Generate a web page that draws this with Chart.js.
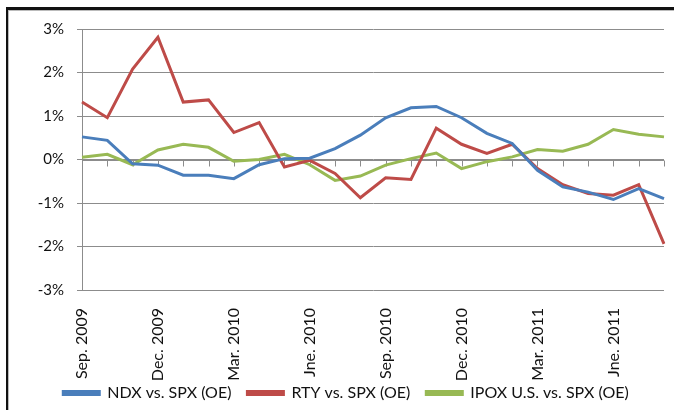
<!DOCTYPE html>
<html>
<head>
<meta charset="utf-8">
<script src="https://cdn.jsdelivr.net/npm/chart.js@4"></script>
<style>
  html, body { margin: 0; padding: 0; background: #fff; overflow: hidden; }
  #frame {
    position: absolute; left: 6px; top: 7px; width: 700px; height: 420px;
    border-left: 2px solid #111; border-top: 3px solid #111;
    box-shadow: inset 1px 1px 0 #bbb;
  }
  #c { position: absolute; left: 0; top: 0; }
</style>
</head>
<body>
<div id="frame"></div>
<canvas id="c" width="674" height="410"></canvas>
<script>
// months, Sep 2009 .. Aug 2011
var months = ['Sep. 2009','Oct. 2009','Nov. 2009','Dec. 2009','Jan. 2010','Feb. 2010',
              'Mar. 2010','Apr. 2010','May 2010','Jne. 2010','Jul. 2010','Aug. 2010',
              'Sep. 2010','Oct. 2010','Nov. 2010','Dec. 2010','Jan. 2011','Feb. 2011',
              'Mar. 2011','Apr. 2011','May 2011','Jne. 2011','Jul. 2011','Aug. 2011'];

// values in %
var ndx  = [0.52,0.44,-0.10,-0.13,-0.36,-0.36,-0.44,-0.12,0.02,0.03,0.25,0.56,
            0.96,1.19,1.22,0.96,0.60,0.37,-0.25,-0.63,-0.75,-0.92,-0.67,-0.90];
var rty  = [1.32,0.96,2.08,2.81,1.32,1.37,0.62,0.85,-0.17,-0.02,-0.32,-0.88,
            -0.42,-0.46,0.72,0.35,0.14,0.35,-0.21,-0.58,-0.78,-0.82,-0.58,-1.94];
var ipox = [0.05,0.12,-0.12,0.22,0.35,0.28,-0.04,0.00,0.12,-0.12,-0.48,-0.38,
            -0.13,0.02,0.15,-0.21,-0.05,0.06,0.23,0.19,0.35,0.69,0.58,0.52];

var yTicks = [-3,-2,-1,0,1,2,3];

var gridColor = '#8c8c8c';
var labelFont = '16px Lato';

// zero line with month tick marks (category axis crosses at 0),
// month labels stay at the low end of the value axis
var zeroAxis = {
  id: 'zeroAxis',
  afterLayout: function(chart) {
    // legend sits a little right of centre and lower in the original
    chart.legend.left += 14;
    chart.legend.right += 14;
    chart.legend.top += 3;
    chart.legend.bottom += 3;
  },
  beforeDatasetsDraw: function(chart) {
    var ctx = chart.ctx, x = chart.scales.x, y = chart.scales.y;
    var y0 = Math.round(y.getPixelForValue(0)) + 0.5;
    ctx.save();
    ctx.strokeStyle = gridColor;
    ctx.lineWidth = 1;
    ctx.beginPath();
    ctx.moveTo(chart.chartArea.left, y0);
    ctx.lineTo(chart.chartArea.right, y0);
    for (var i = 0; i < months.length; i++) {
      var px = Math.round(x.getPixelForValue(i)) + 0.5;
      ctx.moveTo(px, y0);
      ctx.lineTo(px, y0 + 6);
    }
    ctx.stroke();
    ctx.restore();
  },
  afterDraw: function(chart) {
    var ctx = chart.ctx, x = chart.scales.x, y = chart.scales.y;
    ctx.save();
    ctx.fillStyle = '#111';
    ctx.font = labelFont;
    ctx.textAlign = 'right';
    ctx.textBaseline = 'middle';
    for (var i = 0; i < months.length; i += 3) {
      ctx.save();
      ctx.translate(x.getPixelForValue(i), y.bottom + 18);
      ctx.rotate(-Math.PI / 2);
      ctx.fillText(months[i], 0, 0);
      ctx.restore();
    }
    ctx.restore();
  }
};

var ctx = document.getElementById('c').getContext('2d');
new Chart(ctx, {
  type: 'line',
  data: {
    labels: months,
    datasets: [
      { label: 'NDX vs. SPX (OE)', data: ndx, borderColor: '#4A7EBB', backgroundColor: '#4A7EBB' },
      { label: 'RTY vs. SPX (OE)', data: rty, borderColor: '#BE4B48', backgroundColor: '#BE4B48' },
      { label: 'IPOX U.S. vs. SPX (OE)', data: ipox, borderColor: '#98B954', backgroundColor: '#98B954' }
    ]
  },
  options: {
    responsive: false,
    animation: false,
    devicePixelRatio: 1,
    layout: { padding: { left: 0, right: 10, top: 29, bottom: 2 } },
    elements: {
      line: { borderWidth: 3, tension: 0, fill: false },
      point: { radius: 0 }
    },
    plugins: {
      tooltip: { enabled: false },
      legend: {
        position: 'bottom',
        labels: {
          boxWidth: 36,
          boxHeight: 3,
          padding: 16,
          color: '#111',
          font: { family: 'Lato', size: 16 }
        }
      }
    },
    scales: {
      x: {
        grid: { display: false },
        border: { display: false },
        afterFit: function(s) { s.height = 76; },
        ticks: { display: false }
      },
      y: {
        min: -3,
        max: 3,
        afterFit: function(s) { s.width = 82; },
        afterBuildTicks: function(s) { s.ticks = yTicks.map(function(v) { return { value: v }; }); },
        grid: { color: gridColor, tickLength: 5 },
        border: { color: gridColor },
        ticks: {
          padding: 13,
          color: '#111',
          font: { family: 'Lato', size: 15 },
          callback: function(v) { return v + '%'; }
        }
      }
    }
  },
  plugins: [zeroAxis]
});
</script>
</body>
</html>
